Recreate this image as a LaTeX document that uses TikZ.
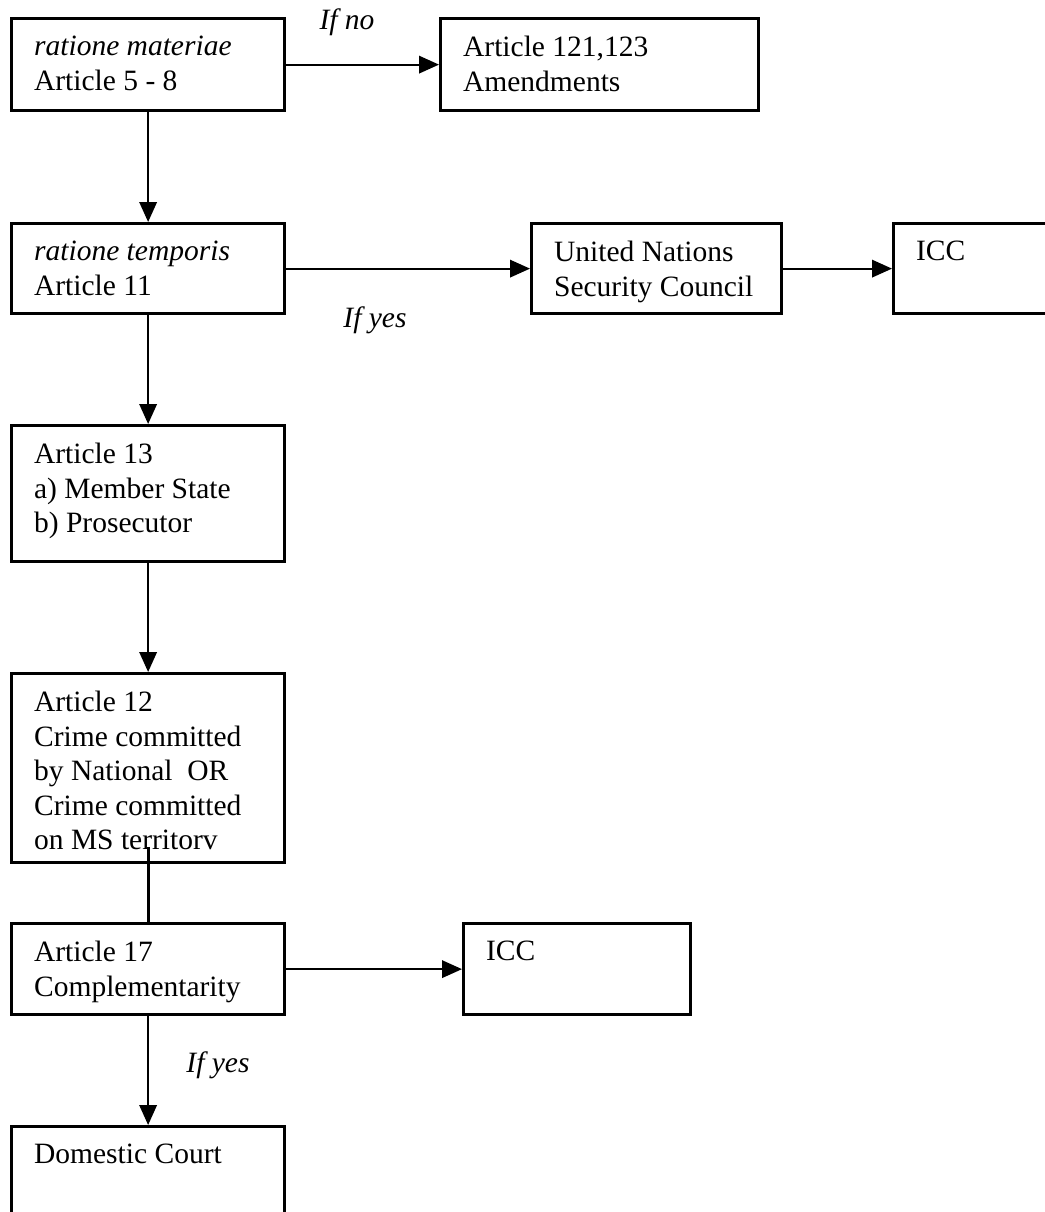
\documentclass[tikz,border=0pt]{standalone}
\usepackage{fontspec}
\setmainfont{Liberation Serif}
\usetikzlibrary{arrows.meta}

% box contents: width and height in pixels of the picture, then the lines
\newcommand{\cell}[3]{\parbox[t][\dimexpr #2pt*2/5-14pt\relax][t]{\dimexpr #1pt*2/5-18pt\relax}{#3}}

\begin{document}
\begin{tikzpicture}[x=0.4pt,y=-0.4pt,
	font=\fontsize{11.8}{13.8}\selectfont,
	box/.style={draw,line width=1.3pt,anchor=north west,inner xsep=9pt,inner ysep=7pt},
	arr/.style={line width=0.75pt,-{Triangle[length=8pt,width=7pt]}},
	lbl/.style={font=\fontsize{11.8}{13.8}\selectfont\itshape}]
	\useasboundingbox (0,0) rectangle (1045,1212);
	\clip (0,0) rectangle (1045,1212);

	\node[box] (mat) at (10,17) {\cell{273}{92}{\textit{ratione materiae}\\Article 5 - 8}};
	\node[box] (amend) at (439,17) {\cell{318}{92}{Article 121,123\\Amendments}};
	\node[box] (temp) at (10,222) {\cell{273}{90}{\textit{ratione temporis}\\Article 11}};
	\node[box] (unsc) at (530,222) {\cell{250}{90}{United Nations\\Security Council}};
	\node[box] (icc1) at (892,222) {\cell{200}{90}{ICC}};
	\node[box] (art13) at (10,424) {\cell{273}{136}{Article 13\\a) Member State\\b) Prosecutor}};
	\node[box] (art12) at (10,672) {\cell{273}{189}{Article 12\\Crime committed\\by National\ \ OR\\Crime committed\\on MS territorv}};
	\node[box] (art17) at (10,922) {\cell{273}{91}{Article 17\\Complementarity}};
	\node[box] (icc2) at (462,922) {\cell{227}{91}{ICC}};
	\node[box] (dom) at (10,1125) {\cell{273}{120}{Domestic Court}};

	% labels on the arrows
	\node[lbl] (ifno) at (347,22) {If no};
	\node[lbl] (ifyes1) at (375,320) {If yes};
	\node[lbl] (ifyes2) at (218,1065) {If yes};

	\draw[arr] (mat.east) -- (amend.west);
	\draw[arr] (mat.south) -- (temp.north);
	\draw[arr] (temp.east) -- (unsc.west);
	\draw[arr] (unsc.east) -- (icc1.west);
	\draw[arr] (temp.south) -- (art13.north);
	\draw[arr] (art13.south) -- (art12.north);
	\draw[line width=1.3pt] ([yshift=7pt]art12.south) -- (art17.north);
	\draw[arr] (art17.east) -- (icc2.west);
	\draw[arr] (art17.south) -- (dom.north);
\end{tikzpicture}
\end{document}
